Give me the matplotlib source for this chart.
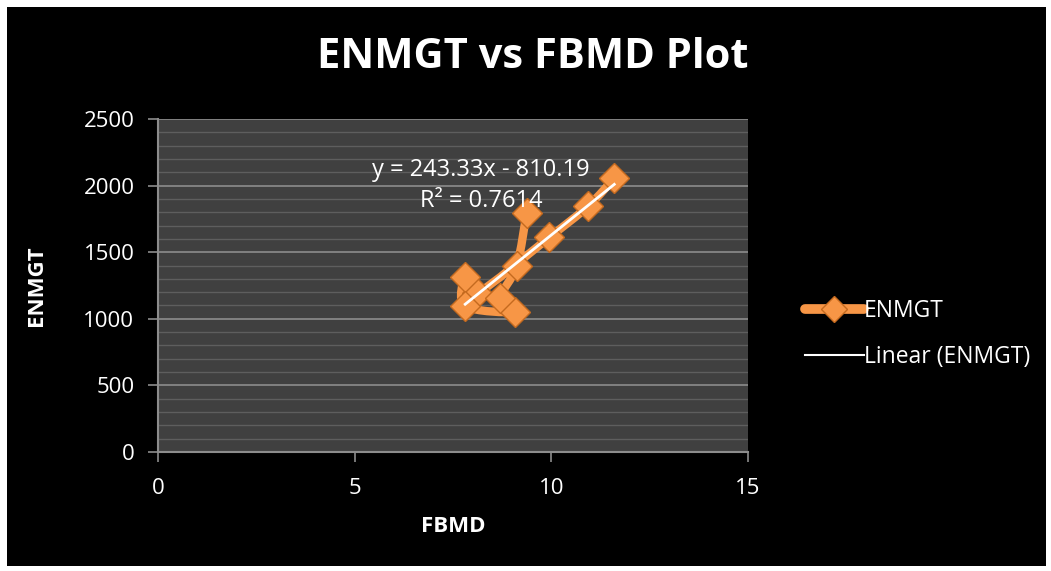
import numpy as np
import matplotlib
matplotlib.use("Agg")
import matplotlib.pyplot as plt
from matplotlib.path import Path
from matplotlib.patches import PathPatch, Rectangle
from matplotlib.lines import Line2D

# data (series order as plotted)
fbmd = [11.60, 10.94, 9.95, 8.10, 7.81, 7.81, 9.08, 8.70, 9.12, 9.37]
enmgt = [2055, 1847, 1612, 1191, 1312, 1096, 1053, 1154, 1396, 1792]
x_ticks = [0, 5, 10, 15]
y_ticks = [0, 500, 1000, 1500, 2000, 2500]
eq_text = "y = 243.33x - 810.19"
r2_text = "R\u00b2 = 0.7614"

orange = "#F79646"
W, H = 1051, 571
plt.rcParams["font.family"] = ["Open Sans", "DejaVu Sans"]


# Excel-like smoothed line as cubic bezier through the points
def smooth_path(xs, ys, t=1 / 6):
    pts = np.column_stack([xs, ys]).astype(float)
    verts = [pts[0]]
    codes = [Path.MOVETO]
    n = len(pts)
    for i in range(n - 1):
        p0 = pts[i - 1] if i > 0 else pts[i]
        p1 = pts[i]
        p2 = pts[i + 1]
        p3 = pts[i + 2] if i + 2 < n else pts[i + 1]
        c1 = p1 + (p2 - p0) * t
        c2 = p2 - (p3 - p1) * t
        verts += [c1, c2, p2]
        codes += [Path.CURVE4] * 3
    return Path(verts, codes)


fig = plt.figure(figsize=(W / 100, H / 100), dpi=100, facecolor="white")
fig.patches.append(Rectangle((7 / W, 5 / H), 1039 / W, 559 / H,
                             transform=fig.transFigure, facecolor="black",
                             edgecolor="none", zorder=-10))

ax = fig.add_axes([158 / W, 1 - 452 / H, 590 / W, 333 / H])
ax.set_zorder(2)
ax.set_facecolor("#404040")
ax.set_xlim(0, 15)
ax.set_ylim(0, 2500)

ax.set_yticks(y_ticks)
ax.set_yticks(np.arange(0, 2501, 100), minor=True)
ax.set_xticks(x_ticks)
ax.grid(True, which="major", axis="y", color="#8c8c8c", linewidth=1.2, zorder=0)
ax.grid(True, which="minor", axis="y", color="#5e5e5e", linewidth=1.0, zorder=0)
ax.tick_params(which="minor", length=0)
ax.tick_params(which="major", colors="#8c8c8c", labelcolor="white",
               labelsize=16, length=7, width=1.2)
ax.tick_params(axis="y", pad=10)
ax.tick_params(axis="x", pad=12)
ax.set_axisbelow(True)
for side in ["top", "right"]:
    ax.spines[side].set_visible(False)
for side in ["left", "bottom"]:
    ax.spines[side].set_color("#8c8c8c")
    ax.spines[side].set_linewidth(1.5)

# series: smoothed line + diamond markers
ax.add_patch(PathPatch(smooth_path(fbmd, enmgt), facecolor="none",
                       edgecolor=orange, linewidth=6, capstyle="round",
                       joinstyle="round", zorder=3))
ax.plot(fbmd, enmgt, linestyle="none", marker="D", markersize=15,
        markerfacecolor=orange, markeredgecolor="#c46a1f",
        markeredgewidth=1.0, zorder=4)

# linear trendline
coef = np.polyfit(fbmd, enmgt, 1)
xl = np.array([min(fbmd), max(fbmd)])
ax.plot(xl, np.polyval(coef, xl), color="white", linewidth=2, zorder=5)

ax.text(481 / W, 1 - 170 / H, eq_text, transform=fig.transFigure,
        color="white", fontsize=17, ha="center", va="center", zorder=6)
ax.text(481 / W, 1 - 201 / H, r2_text, transform=fig.transFigure,
        color="white", fontsize=17, ha="center", va="center", zorder=6)

ax.set_xlabel("FBMD", color="white", fontsize=16, fontweight="bold", labelpad=12)
ax.set_ylabel("ENMGT", color="white", fontsize=16, fontweight="bold", labelpad=26)

fig.text(533 / W, 1 - 58 / H, "ENMGT vs FBMD Plot", color="white",
         fontsize=30, fontweight="bold", ha="center", va="center")

handles = [
    Line2D([0], [0], color=orange, linewidth=7, solid_capstyle="round",
           marker="D", markersize=13, markerfacecolor=orange,
           markeredgecolor="#c46a1f"),
    Line2D([0], [0], color="white", linewidth=1.5),
]
leg = fig.legend(handles, ["ENMGT", "Linear (ENMGT)"], loc="center left",
                 bbox_to_anchor=(784 / W, 1 - 334 / H), frameon=False,
                 fontsize=16.5, labelcolor="white", handlelength=2.6,
                 handletextpad=0.0, labelspacing=1.0)

fig.savefig("out.png", dpi=100, facecolor="white")
